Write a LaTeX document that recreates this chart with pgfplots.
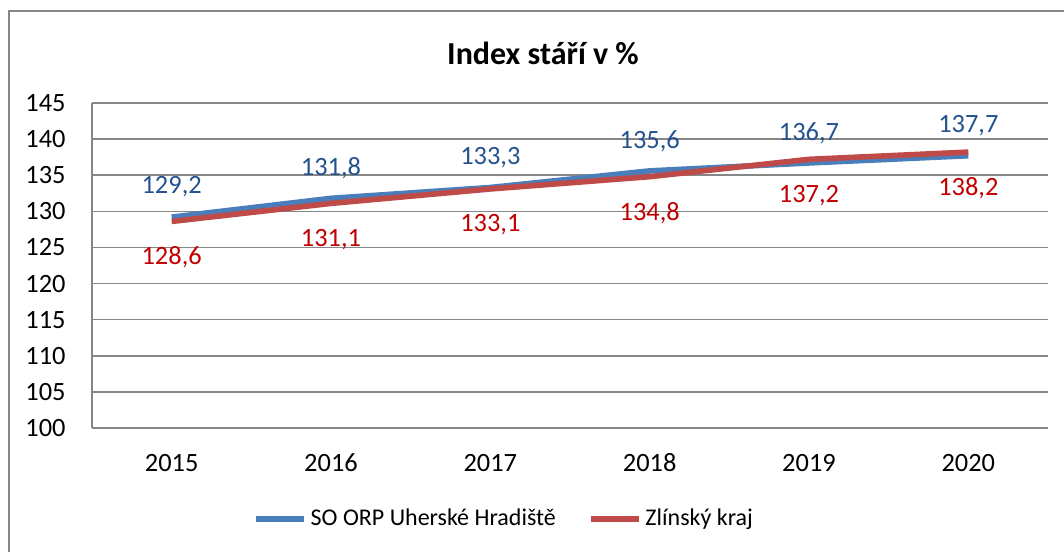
\documentclass[border=0pt]{standalone}
\usepackage{fontspec}
\setmainfont{Carlito}
\usepackage{pgfplots}
\pgfplotsset{compat=1.18}
\definecolor{gridgray}{HTML}{868686}
\definecolor{blueline}{HTML}{4A7EBB}
\definecolor{redline}{HTML}{BE4B48}
\definecolor{bluelab}{HTML}{24528F}
\definecolor{redlab}{HTML}{C00000}
\begin{document}
\begin{tikzpicture}[font=\fontsize{13.2}{15}\selectfont]
\useasboundingbox (0,0) rectangle (532pt,275.5pt);
\draw[gridgray, line width=0.75pt] (4.5pt,-1pt) -- (4.5pt,270pt) -- (533pt,270pt);
\node[font=\fontsize{16}{18}\selectfont\bfseries] at (271.5pt,249pt) {Index stáří v \%};
\begin{axis}[
  at={(46pt,61.5pt)}, anchor=south west,
  width=478pt, height=162.5pt, scale only axis,
  xmin=-0.5, xmax=5.5, ymin=100, ymax=145,
  ytick={100,105,...,145},
  xtick={0,1,2,3,4,5},
  xticklabels={2015,2016,2017,2018,2019,2020},
  /pgf/number format/assume math mode=true,
  ymajorgrids,
  grid style={color=gridgray, line width=0.75pt},
  axis lines*=left,
  axis line style={color=gridgray, line width=0.75pt, -},
  major tick length=0pt,
  xticklabel style={anchor=center, yshift=-17.5pt},
  yticklabel style={anchor=east, inner sep=0pt, xshift=-13pt},
  clip=false,
  nodes near coords,
  nodes near coords style={/pgf/number format/use comma, /pgf/number format/fixed, /pgf/number format/fixed zerofill, /pgf/number format/precision=1, /pgf/number format/assume math mode=true},
  legend style={at={(0.432,-0.28)}, anchor=center, draw=none, fill=none,
    font=\fontsize{12}{14}\selectfont,
    legend columns=2, /tikz/every even column/.append style={column sep=14pt},
    cells={anchor=west}},
  legend image code/.code={\draw[#1, line width=2.8pt, line cap=butt] (0pt,0pt) -- (24pt,0pt);},
]
\addplot[blueline, line width=2.8pt, line cap=butt, line join=round, mark=none,
  nodes near coords style={text=bluelab, anchor=center, yshift=15pt}]
  coordinates {(0,129.2) (1,131.8) (2,133.3) (3,135.6) (4,136.7) (5,137.7)};
\addlegendentry{SO ORP Uherské Hradiště}
\addplot[redline, line width=2.8pt, line cap=butt, line join=round, mark=none,
  nodes near coords style={text=redlab, anchor=center, yshift=-18pt}]
  coordinates {(0,128.6) (1,131.1) (2,133.1) (3,134.8) (4,137.2) (5,138.2)};
\addlegendentry{Zlínský kraj}
\end{axis}
\end{tikzpicture}
\end{document}
